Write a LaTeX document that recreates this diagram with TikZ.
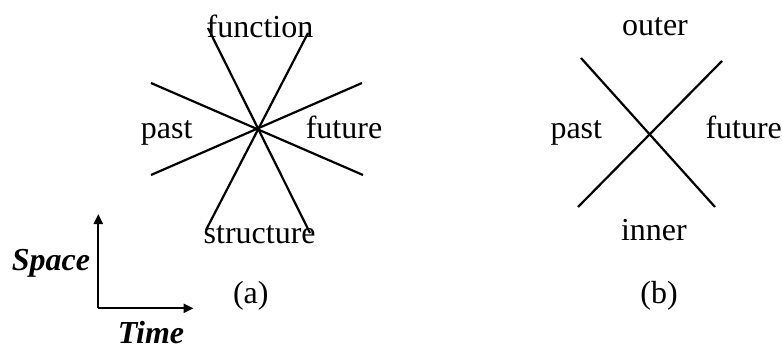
\documentclass[tikz,border=0pt]{standalone}
\usepackage{fontspec}
\setmainfont{Liberation Serif}
\usetikzlibrary{arrows.meta}
\tikzset{
  ray/.style={line width=2.2pt},
  axis/.style={line width=2.2pt, -{Triangle[length=10pt,width=9pt]}},
  lbl/.style={inner sep=0pt, anchor=base, font=\fontsize{32}{38}\selectfont},
  axlbl/.style={lbl, font=\fontsize{32}{38}\selectfont\bfseries\itshape},
}
\begin{document}
\begin{tikzpicture}[x=1pt, y=-1pt]
  \useasboundingbox (0,0) rectangle (782,350);

  % (a): eight rays through one point
  \coordinate (a1s) at (208,28);  \coordinate (a1e) at (310,233);
  \coordinate (a2s) at (308,33);  \coordinate (a2e) at (206,230);
  \coordinate (a3s) at (151,83);  \coordinate (a3e) at (363,175);
  \coordinate (a4s) at (362,83);  \coordinate (a4e) at (151,175);
  \draw[ray] (a1s) -- (a1e);
  \draw[ray] (a2s) -- (a2e);
  \draw[ray] (a3s) -- (a3e);
  \draw[ray] (a4s) -- (a4e);

  \node[lbl] (afun)  at (260,37.3)  {function};
  \node[lbl] (apast) at (166.7,138.3) {past};
  \node[lbl] (afut)  at (344,138.3) {future};
  \node[lbl] (astr)  at (259.7,243.3) {structure};
  \node[lbl] (acap)  at (250.8,303) {(a)};

  % (b): a simple cross
  \coordinate (b1s) at (581,58);  \coordinate (b1e) at (715,207);
  \coordinate (b2s) at (722,61);  \coordinate (b2e) at (578,207);
  \draw[ray] (b1s) -- (b1e);
  \draw[ray] (b2s) -- (b2e);

  \node[lbl] (bout)  at (655,36)    {outer};
  \node[lbl] (bpast) at (576.3,138.3) {past};
  \node[lbl] (bfut)  at (743.7,138.3) {future};
  \node[lbl] (binn)  at (653.9,240.7) {inner};
  \node[lbl] (bcap)  at (659,303)   {(b)};

  % space/time axes
  \coordinate (o)  at (98.3,308.3);
  \coordinate (up) at (98.3,214);
  \coordinate (rt) at (193.5,308.3);
  \draw[axis] (o) -- (up);
  \draw[axis] (o) -- (rt);
  \node[axlbl] (space) at (51,270.7)  {Space};
  \node[axlbl] (time)  at (151,343.3) {Time};
\end{tikzpicture}
\end{document}
